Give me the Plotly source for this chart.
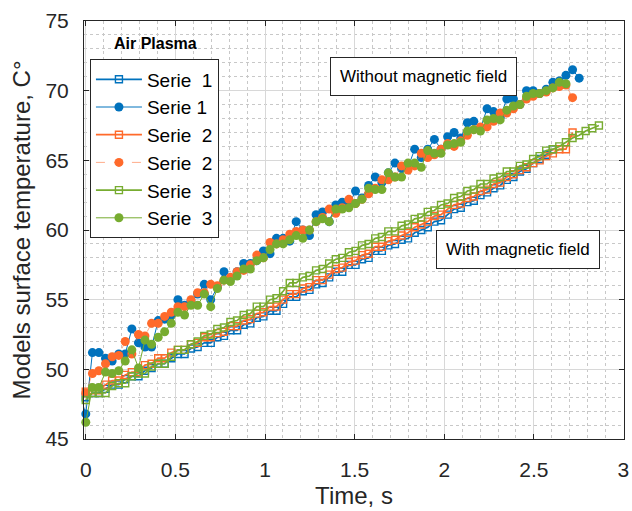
import plotly.graph_objects as go

# Shared time grid (s)
TIME = [-0.037, 0.000, 0.037, 0.073, 0.110, 0.147, 0.184, 0.220, 0.257, 0.294,
        0.330, 0.367, 0.404, 0.440, 0.477, 0.514, 0.551, 0.587, 0.624, 0.661,
        0.697, 0.734, 0.771, 0.807, 0.844, 0.881, 0.918, 0.954, 0.991, 1.028,
        1.064, 1.101, 1.138, 1.174, 1.211, 1.248, 1.285, 1.321, 1.358, 1.395,
        1.431, 1.468, 1.505, 1.541, 1.578, 1.615, 1.652, 1.688, 1.725, 1.762,
        1.798, 1.835, 1.872, 1.908, 1.945, 1.982, 2.019, 2.055, 2.092, 2.129,
        2.165, 2.202, 2.239, 2.275, 2.312, 2.349, 2.386, 2.422, 2.459, 2.496,
        2.532, 2.569, 2.606, 2.642, 2.679, 2.716, 2.753, 2.789, 2.826, 2.863]

# With magnetic field (squares)
s1_with = [48.0, 48.3, 48.3, 48.6, 48.9, 48.9, 49.3, 49.5, 49.5, 49.9, 50.1, 50.4, 50.4, 50.8,
           51.1, 51.1, 51.5, 51.6, 51.9, 51.9, 52.3, 52.4, 52.8, 52.8, 53.2, 53.3, 53.7, 53.8,
           54.2, 54.2, 54.7, 55.2, 55.2, 55.6, 55.7, 56.1, 56.2, 56.6, 57.0, 57.0, 57.5, 57.5,
           57.9, 58.0, 58.5, 58.5, 58.9, 59.0, 59.3, 59.4, 59.8, 60.0, 60.2, 60.6, 60.7, 61.1,
           61.5, 61.6, 62.0, 62.1, 62.5, 62.7, 63.0, 63.2, 63.6, 63.8, 64.2, 64.4, 64.8, 65.1,
           65.4, 65.8]
s2_with = [48.4, 48.5, 48.5, 48.9, 49.2, 49.2, 49.6, 49.8, 49.8, 50.3, 50.4, 50.8, 50.8, 51.2,
           51.4, 51.4, 51.8, 51.9, 52.3, 52.3, 52.6, 52.7, 53.1, 53.1, 53.5, 53.6, 54.0, 54.1,
           54.5, 54.5, 55.0, 55.4, 55.4, 55.8, 55.9, 56.4, 56.4, 56.8, 57.2, 57.3, 57.7, 57.8,
           58.2, 58.3, 58.8, 58.8, 59.2, 59.3, 59.6, 59.8, 60.2, 60.4, 60.6, 61.0, 61.1, 61.5,
           61.8, 61.9, 62.3, 62.4, 62.8, 62.9, 63.3, 63.4, 63.8, 64.0, 64.3, 64.5, 64.8, 65.0,
           65.3, 65.5, 65.8, 65.8, 67.0]
s3_with = [47.8, 48.3, 48.3, 48.3, 48.8, 49.0, 49.0, 49.5, 49.7, 49.7, 50.2, 50.4, 50.4, 50.9,
           51.4, 51.4, 51.8, 52.0, 52.4, 52.5, 52.9, 53.0, 53.4, 53.5, 53.9, 54.0, 54.5, 54.5,
           55.0, 55.1, 55.6, 56.2, 56.2, 56.6, 56.7, 57.1, 57.2, 57.6, 57.9, 58.0, 58.4, 58.5,
           58.9, 59.0, 59.4, 59.5, 59.9, 59.9, 60.3, 60.4, 60.8, 60.9, 61.3, 61.4, 61.8, 61.9,
           62.3, 62.4, 62.8, 62.9, 63.3, 63.3, 63.7, 63.8, 64.2, 64.2, 64.6, 64.7, 65.1, 65.3,
           65.7, 65.8, 66.0, 66.3, 66.6, 66.8, 67.1, 67.3, 67.5]

# Without magnetic field (dots)
s1_without = [48.3, 46.8, 51.2, 51.2, 50.8, 50.6, 51.1, 51.1, 52.9, 51.9, 51.6, 51.6, 53.5,
              53.6, 53.9, 55.0, 54.6, 54.9, 55.4, 56.1, 55.0, 55.9, 57.0, 56.5, 57.0, 57.6,
              57.6, 57.8, 58.5, 58.3, 59.4, 59.4, 59.2, 60.6, 60.0, 59.6, 61.1, 61.3, 60.6,
              61.8, 62.0, 61.8, 62.8, 62.3, 63.2, 63.8, 63.4, 64.1, 64.8, 64.4, 64.5, 65.8,
              65.2, 65.8, 66.5, 65.8, 66.7, 67.0, 66.6, 67.7, 67.8, 67.3, 68.7, 68.5, 68.1,
              69.4, 69.4, 69.0, 70.0, 70.0, 69.8, 70.1, 70.6, 70.7, 71.1, 71.5, 70.9]
s2_without = [48.9, 48.3, 49.7, 49.9, 50.4, 50.9, 51.0, 52.0, 51.1, 52.5, 52.4, 53.3, 53.3,
              53.8, 54.1, 54.5, 54.5, 55.0, 55.5, 55.5, 56.1, 56.0, 56.4, 56.6, 57.0, 57.1,
              57.5, 58.2, 58.0, 59.1, 59.0, 59.3, 59.7, 59.9, 60.0, 60.0, 60.6, 60.9, 61.5,
              61.2, 61.6, 62.2, 61.9, 62.2, 62.6, 63.0, 63.6, 63.6, 63.8, 64.6, 64.3, 64.6,
              65.5, 65.2, 65.4, 65.8, 66.2, 66.0, 66.4, 66.8, 67.2, 67.4, 67.4, 67.8, 68.4,
              68.4, 68.7, 69.0, 69.4, 69.6, 69.8, 69.9, 70.2, 70.3, 70.4, 69.5]
s3_without = [46.2, 48.7, 48.7, 49.8, 49.7, 49.9, 50.6, 51.4, 50.1, 52.1, 51.8, 52.3, 52.7,
              53.3, 54.1, 53.9, 54.6, 54.6, 55.4, 54.5, 55.8, 56.4, 56.3, 56.7, 57.2, 57.2,
              57.8, 58.0, 58.6, 59.0, 59.0, 59.3, 59.6, 59.4, 60.0, 60.6, 60.8, 60.6, 61.5,
              61.5, 61.6, 61.9, 62.2, 63.0, 62.9, 62.9, 64.1, 63.8, 63.8, 64.8, 64.8, 64.5,
              65.7, 65.5, 65.5, 66.1, 66.2, 66.3, 67.1, 67.2, 67.1, 67.9, 68.0, 67.9, 68.6,
              68.9, 69.0, 69.6, 69.8, 69.8, 70.0, 70.2, 70.6, 70.5]

# index in TIME where each series starts
START = {"s1_with": 1, "s2_with": 1, "s3_with": 1,
         "s1_without": 0, "s2_without": 0, "s3_without": 1}

LABELS = ["Serie\u00a0\u00a01", "Serie\u00a01", "Serie\u00a0\u00a02",
          "Serie\u00a0\u00a02", "Serie\u00a0\u00a03", "Serie\u00a0\u00a03"]

BLUE = "#0072BD"
ORANGE = "#FF6A2B"
GREEN = "#77AC30"
FONT = "Liberation Sans, Arial, sans-serif"
INK = "#262626"

def tx(name, vals):
    s = START[name]
    return TIME[s:s + len(vals)]

fig = go.Figure()

specs = [
    ("s1_with", s1_with, LABELS[0], dict(color=BLUE, width=1.7), dict(symbol="square-open", size=7, color=BLUE, line=dict(width=1.4))),
    ("s1_without", s1_without, LABELS[1], dict(color=BLUE, width=1.0), dict(symbol="circle", size=9, color=BLUE)),
    ("s2_with", s2_with, LABELS[2], dict(color=ORANGE, width=1.7), dict(symbol="square-open", size=7, color=ORANGE, line=dict(width=1.4))),
    ("s2_without", s2_without, LABELS[3], dict(color="rgba(255,106,43,0.55)", width=1.0, dash="dash"), dict(symbol="circle", size=9, color=ORANGE)),
    ("s3_with", s3_with, LABELS[4], dict(color=GREEN, width=1.7), dict(symbol="square-open", size=7, color=GREEN, line=dict(width=1.4))),
    ("s3_without", s3_without, LABELS[5], dict(color=GREEN, width=1.0), dict(symbol="circle", size=9, color=GREEN)),
]

for i, (name, vals, label, line, marker) in enumerate(specs):
    fig.add_trace(go.Scatter(
        x=tx(name, vals), y=vals, mode="lines+markers", name=label,
        line=line, marker=marker, cliponaxis=False, legendgroup=f"g{i}",
    ))

axis_common = dict(
    showline=True, linecolor=INK, linewidth=1, mirror="ticks",
    ticks="inside", ticklen=5, tickcolor=INK,
    showgrid=True, gridcolor="#D8D8D8", gridwidth=1,
    zeroline=False, automargin=False,
    tickfont=dict(family=FONT, size=21, color=INK),
)

fig.update_xaxes(
    **axis_common, range=[-0.01, 3.003], tickmode="array",
    tickvals=[0, 0.5, 1, 1.5, 2, 2.5, 3], ticktext=["0", "0.5", "1", "1.5", "2", "2.5", "3"],
    ticklabelstandoff=12,
    minor=dict(dtick=0.1, showgrid=True, gridcolor="#C8C8C8", griddash="dot", ticks=""),
    title=dict(text="Time, s", font=dict(family=FONT, size=24, color=INK), standoff=6),
)
fig.update_yaxes(
    **axis_common, range=[45, 75], tickvals=[45, 50, 55, 60, 65, 70, 75],
    ticklabelstandoff=10,
    minor=dict(dtick=1, showgrid=True, gridcolor="#C8C8C8", griddash="dot", ticks=""),
    title=dict(text="Models surface temperature, C°", font=dict(family=FONT, size=24, color=INK), standoff=8),
)

fig.update_layout(
    width=632, height=511,
    margin=dict(l=84, r=8, t=21, b=72),
    plot_bgcolor="white", paper_bgcolor="white",
    font=dict(family=FONT, color=INK),
    legend=dict(
        x=0.011, y=0.908, xanchor="left", yanchor="top",
        bgcolor="white", bordercolor=INK, borderwidth=1,
        font=dict(family=FONT, size=19, color="black"),
        itemwidth=46, tracegroupgap=0,
    ),
    annotations=[
        dict(text="<b>Air Plasma</b>", xref="paper", yref="paper", x=0.132, y=0.946,
             xanchor="center", yanchor="middle",
             showarrow=False, font=dict(family=FONT, size=16, color="black")),
        dict(text="Without magnetic field", xref="x", yref="y", x=1.884, y=71.0,
             xanchor="center", yanchor="middle",
             showarrow=False, font=dict(family=FONT, size=17, color="black"),
             bgcolor="white", bordercolor=INK, borderwidth=1, borderpad=9),
        dict(text="With magnetic field", xref="x", yref="y", x=2.41, y=58.57,
             xanchor="center", yanchor="middle",
             showarrow=False, font=dict(family=FONT, size=17, color="black"),
             bgcolor="white", bordercolor=INK, borderwidth=1, borderpad=9),
    ],
)

fig.write_html("out.html", config={"displayModeBar": False},
               post_script="document.body.style.margin='0';")
